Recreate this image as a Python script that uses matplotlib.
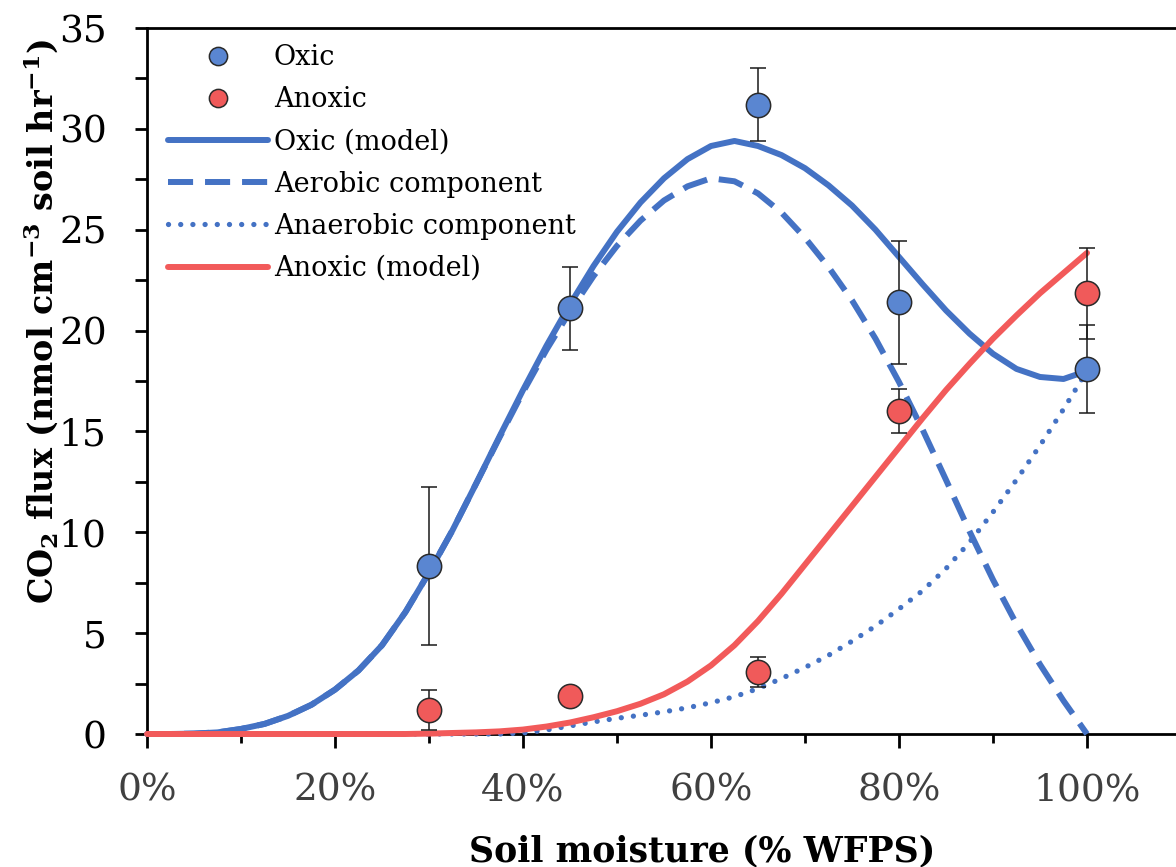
"""CO2 flux vs soil moisture: oxic/anoxic data with model curves."""

import matplotlib as mpl
import matplotlib.pyplot as plt
from matplotlib.ticker import FuncFormatter, MultipleLocator

mpl.rcParams["font.family"] = "DejaVu Serif"
mpl.rcParams["mathtext.fontset"] = "dejavuserif"

# measured points (fraction WFPS)
moisture = [0.30, 0.45, 0.65, 0.80, 1.00]
oxic_flux = [8.33, 21.1, 31.2, 21.4, 18.1]
oxic_err = [3.9, 2.05, 1.8, 3.05, 2.2]
anoxic_flux = [1.2, 1.88, 3.07, 16.0, 21.85]
anoxic_err = [1.0, 0.0, 0.75, 1.1, 2.25]

# model curves, every 2.5 % WFPS
model_pct = [0, 2.5, 5, 7.5, 10, 12.5, 15, 17.5, 20, 22.5, 25, 27.5, 30, 32.5,
             35, 37.5, 40, 42.5, 45, 47.5, 50, 52.5, 55, 57.5, 60, 62.5, 65,
             67.5, 70, 72.5, 75, 77.5, 80, 82.5, 85, 87.5, 90, 92.5, 95, 97.5,
             100]
oxic_model = [0, 0, 0.02, 0.08, 0.25, 0.5, 0.9, 1.45, 2.2, 3.15, 4.4, 6.05,
              8.0, 10.1, 12.4, 14.75, 17.05, 19.25, 21.3, 23.2, 24.9, 26.35,
              27.55, 28.5, 29.15, 29.4, 29.15, 28.7, 28.05, 27.2, 26.2, 25.0,
              23.65, 22.3, 21.0, 19.85, 18.85, 18.1, 17.7, 17.6, 18.0]
aerobic = [0, 0, 0.02, 0.08, 0.25, 0.5, 0.9, 1.45, 2.2, 3.15, 4.4, 6.05, 8.0,
           10.1, 12.4, 14.7, 16.95, 19.05, 20.95, 22.7, 24.2, 25.45, 26.45,
           27.15, 27.55, 27.4, 26.8, 25.85, 24.6, 23.15, 21.5, 19.6, 17.45,
           15.1, 12.6, 10.05, 7.65, 5.45, 3.45, 1.65, 0]
anaerobic = [0, 0, 0, 0, 0, 0, 0, 0, 0, 0, 0, 0, 0, 0, 0, 0, 0.05, 0.2, 0.4,
             0.6, 0.78, 0.93, 1.1, 1.3, 1.55, 1.85, 2.25, 2.75, 3.3, 3.9, 4.6,
             5.35, 6.2, 7.1, 8.2, 9.5, 11.0, 12.6, 14.3, 16.1, 18.0]
anoxic_model = [0, 0, 0, 0, 0, 0, 0, 0, 0, 0, 0, 0, 0.02, 0.05, 0.08, 0.13,
                0.22, 0.37, 0.57, 0.83, 1.13, 1.5, 1.97, 2.6, 3.4, 4.4, 5.6,
                6.95, 8.4, 9.85, 11.3, 12.75, 14.2, 15.65, 17.05, 18.35, 19.6,
                20.75, 21.85, 22.85, 23.85]

BLUE = "#4472C4"
RED = "#F25A5A"
BLUE_PT = "#5A86D1"
RED_PT = "#F05A5A"

if __name__ == "__main__":
    fig = plt.figure(figsize=(11.76, 8.67), dpi=100)
    ax = fig.add_axes([0.125, 0.1534, 0.875, 0.8143])

    mx = [p / 100 for p in model_pct]
    lw = 4.3
    common = dict(zorder=3, clip_on=False, solid_joinstyle="round",
                  solid_capstyle="round")
    h_aer, = ax.plot(mx, aerobic, color=BLUE, lw=lw, ls=(0, (4.2, 2.0)),
                     label="Aerobic component", **common)
    h_ana, = ax.plot(mx, anaerobic, color=BLUE, lw=3.8, ls=(0, (0.01, 2.3)),
                     dash_capstyle="round", label="Anaerobic component",
                     **common)
    h_oxm, = ax.plot(mx, oxic_model, color=BLUE, lw=lw, label="Oxic (model)",
                     **common)
    h_anm, = ax.plot(mx, anoxic_model, color=RED, lw=lw,
                     label="Anoxic (model)", **common)

    ax.errorbar(moisture, oxic_flux, yerr=oxic_err, fmt="none",
                ecolor="#1a1a1a", elinewidth=1.1, capsize=6, capthick=1.1,
                zorder=4)
    ax.errorbar(moisture, anoxic_flux, yerr=anoxic_err, fmt="none",
                ecolor="#1a1a1a", elinewidth=1.1, capsize=6, capthick=1.1,
                zorder=4)
    h_ox, = ax.plot(moisture, oxic_flux, "o", ms=17.5, mfc=BLUE_PT,
                    mec="#2a2a2a", mew=1.1, ls="none", label="Oxic", zorder=5)
    h_an, = ax.plot(moisture, anoxic_flux, "o", ms=17.5, mfc=RED_PT,
                    mec="#2a2a2a", mew=1.1, ls="none", label="Anoxic",
                    zorder=5)

    ax.set_xlim(0, 1.0947)
    ax.set_ylim(0, 35)
    ax.spines["right"].set_visible(False)
    for s in ("left", "bottom", "top"):
        ax.spines[s].set_linewidth(2.0)

    ax.xaxis.set_major_locator(MultipleLocator(0.2))
    ax.xaxis.set_minor_locator(MultipleLocator(0.1))
    ax.xaxis.set_major_formatter(FuncFormatter(lambda v, p: f"{v * 100:.0f}%"))
    ax.yaxis.set_major_locator(MultipleLocator(5))
    ax.yaxis.set_minor_locator(MultipleLocator(2.5))
    ax.tick_params(axis="x", which="major", direction="out", length=10,
                   width=2, labelsize=27, labelcolor="#404040", pad=18)
    ax.tick_params(axis="x", which="minor", direction="out", length=6.5,
                   width=2)
    ax.tick_params(axis="y", which="both", direction="out", length=9,
                   width=2, labelsize=27, pad=20)

    ax.set_xlabel("Soil moisture (% WFPS)", fontsize=25, fontweight="bold")
    ax.xaxis.set_label_coords(0.539, -0.142)
    ax.set_ylabel(r"CO$_\mathbf{2}$ flux (nmol cm$^\mathbf{-3}$ soil hr$^\mathbf{-1}$)",
                  fontsize=24, fontweight="bold")
    ax.yaxis.set_label_coords(-0.085, 0.585)

    ax.legend(handles=[h_ox, h_an, h_oxm, h_aer, h_ana, h_anm],
              loc="upper left", bbox_to_anchor=(0.02, 0.977), frameon=False,
              fontsize=19.5, handlelength=3.7, handletextpad=0.22,
              labelspacing=0.56, borderpad=0, borderaxespad=0,
              markerscale=0.75)

    plt.savefig("out.png", dpi=100)
